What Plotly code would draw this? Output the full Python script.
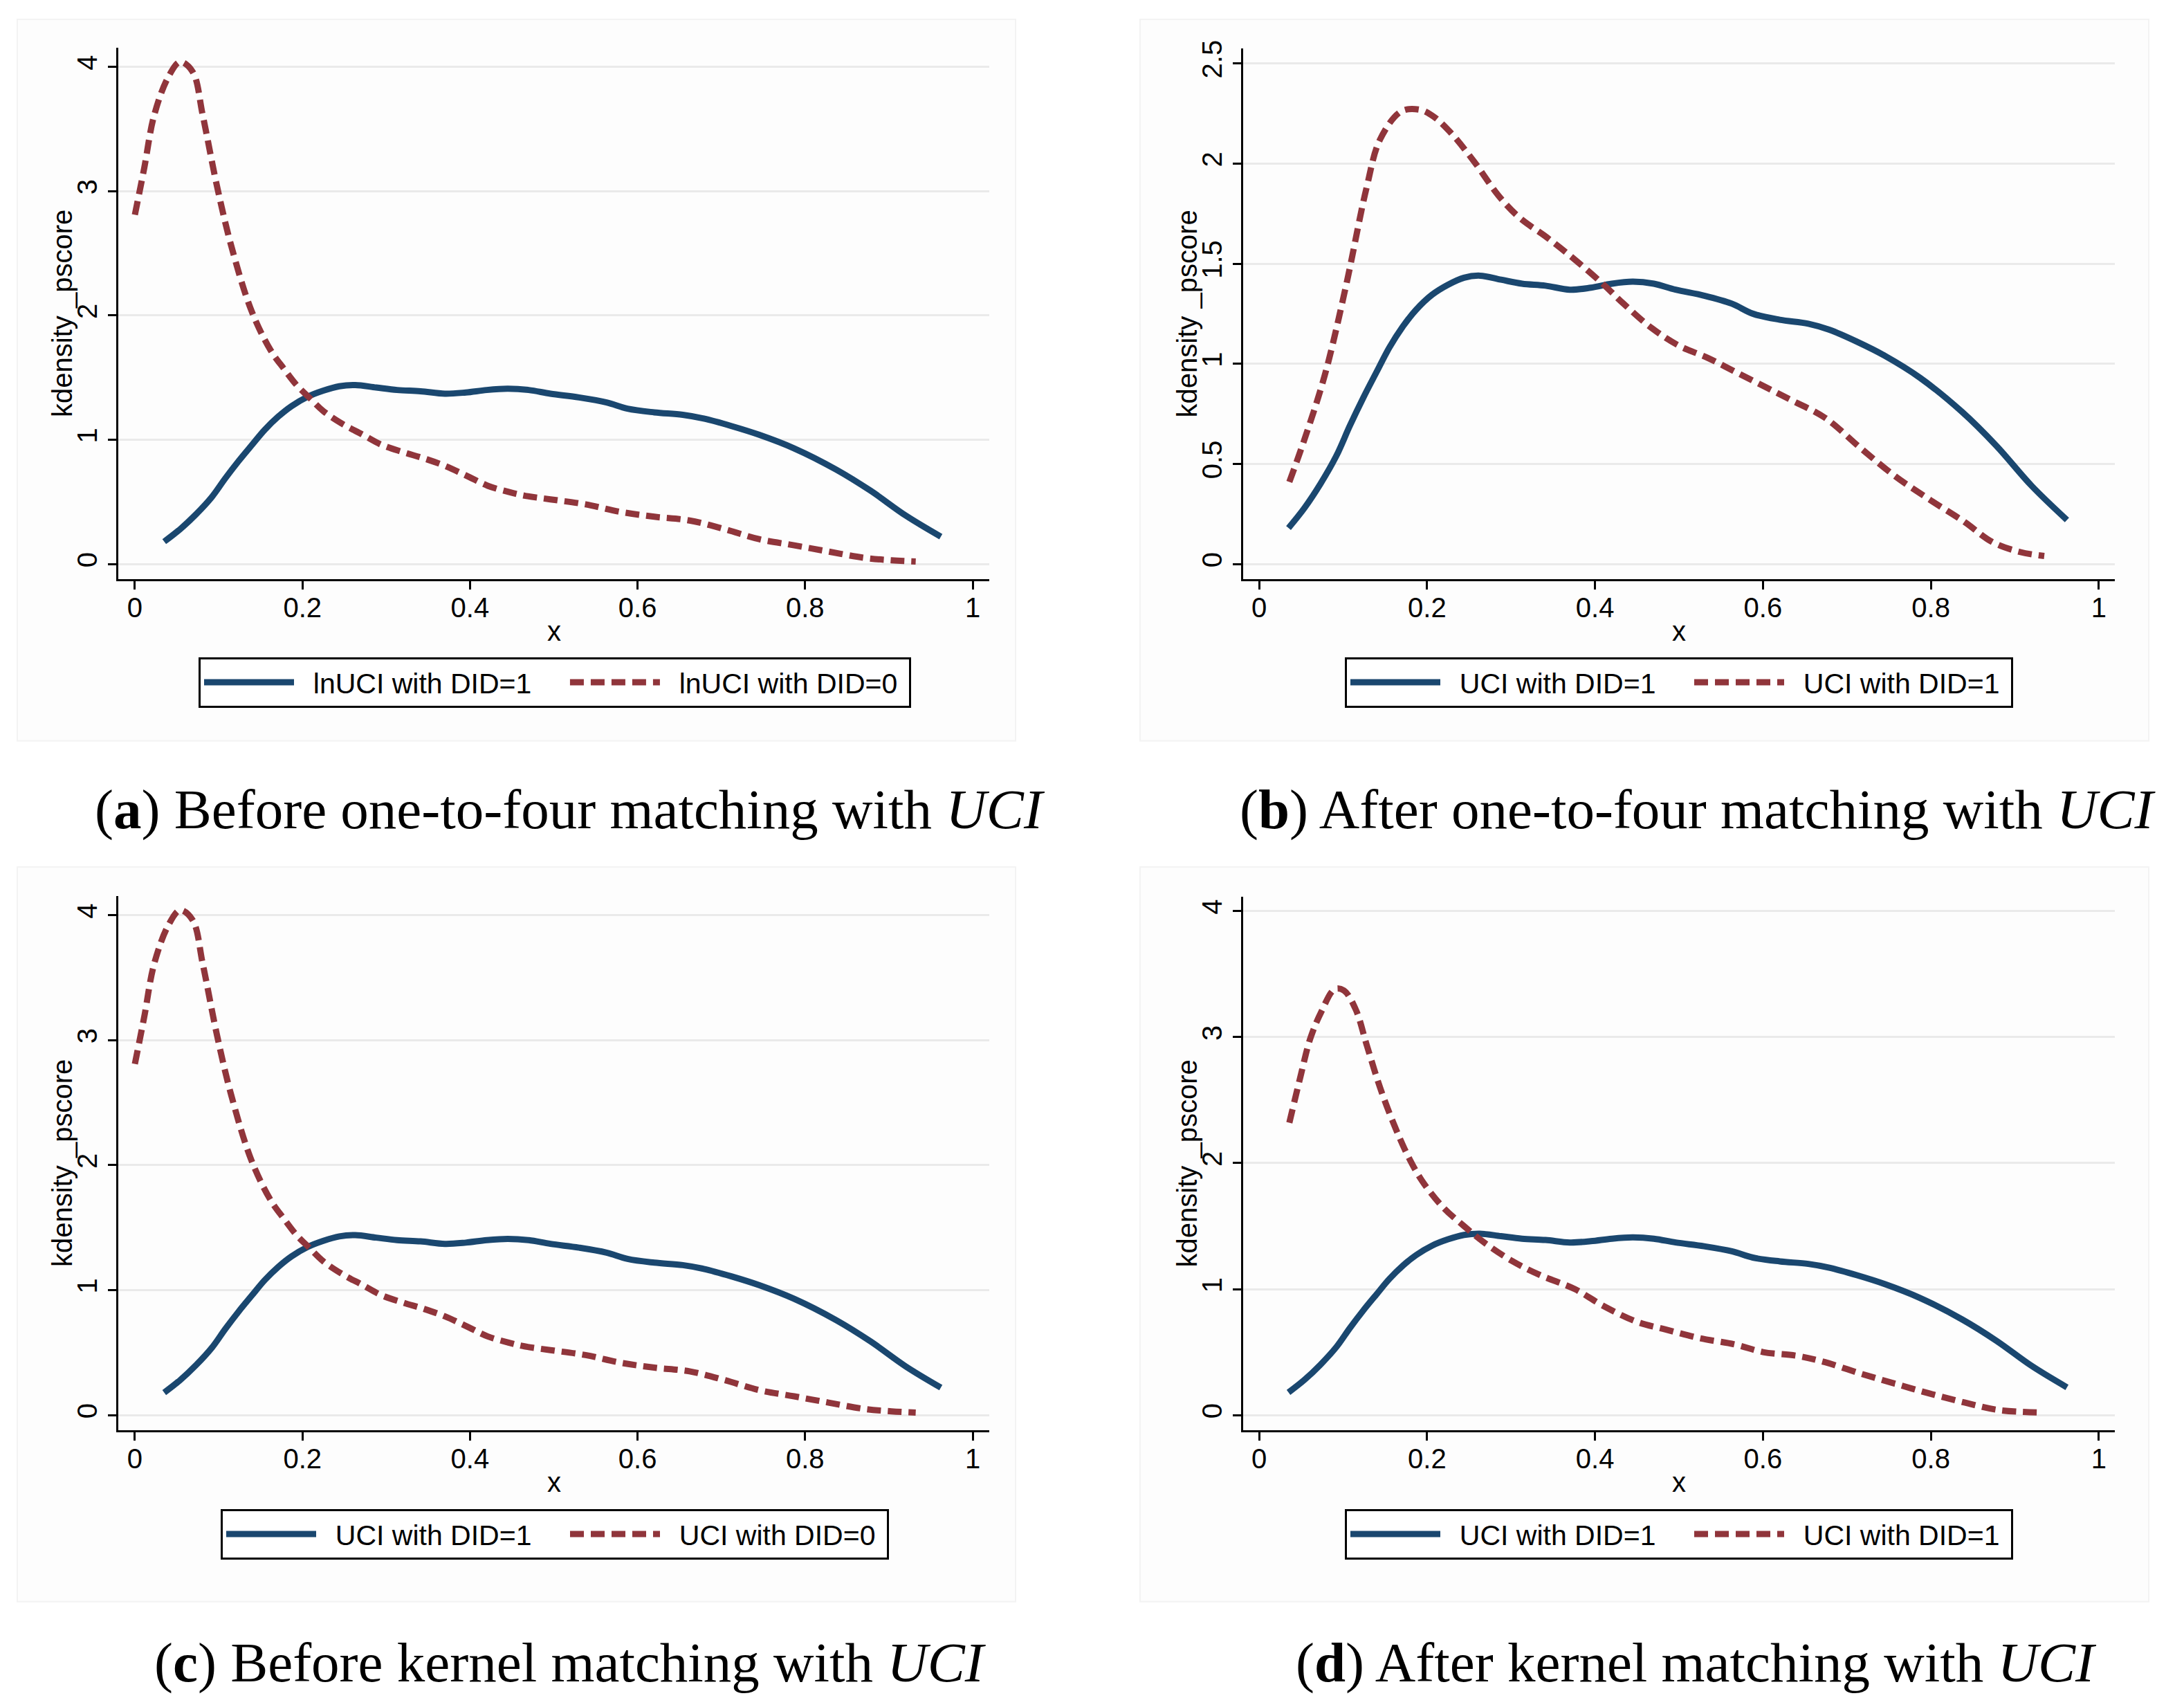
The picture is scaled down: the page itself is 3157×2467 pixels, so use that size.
import plotly.graph_objects as go

# ==========================================================
# DATA
# ==========================================================
# treated group (DID=1) -- same curve in all four panels
x_treated = [0.035, 0.054, 0.073, 0.092, 0.108, 0.124, 0.14, 0.155, 0.171, 0.187, 0.206,
             0.225, 0.244, 0.263, 0.288, 0.313, 0.341, 0.37, 0.395, 0.42, 0.445, 0.47,
             0.496, 0.53, 0.563, 0.588, 0.62, 0.654, 0.679, 0.712, 0.745, 0.787, 0.837,
             0.878, 0.92, 0.962]
y_treated = [0.18, 0.28, 0.40, 0.54, 0.69, 0.83, 0.96, 1.08, 1.185, 1.27, 1.345,
             1.395, 1.43, 1.44, 1.42, 1.40, 1.39, 1.37, 1.38, 1.40, 1.41, 1.40,
             1.37, 1.34, 1.30, 1.25, 1.22, 1.20, 1.17, 1.11, 1.04, 0.93, 0.76,
             0.59, 0.39, 0.22]

# control group before matching (panels a and c)
x_before = [0.0, 0.011, 0.023, 0.04, 0.054, 0.069, 0.081, 0.098, 0.115, 0.139, 0.162,
            0.178, 0.193, 0.208, 0.225, 0.247, 0.272, 0.294, 0.32, 0.345, 0.37, 0.396,
            0.421, 0.446, 0.465, 0.496, 0.538, 0.579, 0.62, 0.662, 0.704, 0.745, 0.787,
            0.828, 0.87, 0.903, 0.932]
y_before = [2.81, 3.18, 3.61, 3.92, 4.04, 3.96, 3.61, 3.04, 2.56, 2.04, 1.72,
            1.57, 1.44, 1.34, 1.23, 1.13, 1.04, 0.96, 0.90, 0.85, 0.79, 0.71,
            0.63, 0.58, 0.55, 0.52, 0.48, 0.42, 0.38, 0.35, 0.28, 0.20, 0.15,
            0.10, 0.05, 0.03, 0.02]

# after one-to-four matching (panel b)
x_after_nn = [0.036, 0.053, 0.078, 0.103, 0.128, 0.144, 0.169, 0.19, 0.206, 0.227, 0.256,
              0.285, 0.31, 0.343, 0.376, 0.409, 0.434, 0.467, 0.5, 0.534, 0.567, 0.6,
              0.633, 0.674, 0.716, 0.757, 0.799, 0.84, 0.873, 0.906, 0.935]
y_after_nn = [0.41, 0.61, 0.94, 1.38, 1.88, 2.12, 2.26, 2.27, 2.24, 2.16, 2.01,
              1.84, 1.73, 1.63, 1.52, 1.40, 1.30, 1.18, 1.09, 1.03, 0.96, 0.89,
              0.82, 0.73, 0.58, 0.44, 0.32, 0.21, 0.11, 0.06, 0.04]

# after kernel matching (panel d)
x_after_kernel = [0.036, 0.049, 0.061, 0.074, 0.09, 0.101, 0.115, 0.128, 0.144, 0.161, 0.177,
                  0.194, 0.219, 0.244, 0.268, 0.302, 0.335, 0.376, 0.409, 0.45, 0.484, 0.525,
                  0.567, 0.6, 0.641, 0.674, 0.716, 0.757, 0.799, 0.84, 0.881, 0.934]
y_after_kernel = [2.32, 2.68, 2.99, 3.20, 3.38, 3.37, 3.22, 2.94, 2.60, 2.30, 2.06,
                  1.86, 1.65, 1.50, 1.37, 1.22, 1.11, 1.00, 0.87, 0.74, 0.68, 0.61,
                  0.56, 0.50, 0.47, 0.42, 0.33, 0.25, 0.17, 0.10, 0.04, 0.02]

x_ticks = [0, 0.2, 0.4, 0.6, 0.8, 1]
x_tick_labels = ["0", "0.2", "0.4", "0.6", "0.8", "1"]
y_ticks_4 = [0, 1, 2, 3, 4]
y_tick_labels_4 = ["0", "1", "2", "3", "4"]
y_ticks_25 = [0, 0.5, 1, 1.5, 2, 2.5]
y_tick_labels_25 = ["0", "0.5", "1", "1.5", "2", "2.5"]

legend_labels = [
    ("lnUCI with DID=1", "lnUCI with DID=0"),
    ("UCI with DID=1", "UCI with DID=1"),
    ("UCI with DID=1", "UCI with DID=0"),
    ("UCI with DID=1", "UCI with DID=1"),
]
captions = [
    "(<b>a</b>) Before one-to-four matching with <i>UCI</i>",
    "(<b>b</b>) After one-to-four matching with <i>UCI</i>",
    "(<b>c</b>) Before kernel matching with <i>UCI</i>",
    "(<b>d</b>) After kernel matching with <i>UCI</i>",
]
x_title = "x"
y_title = "kdensity _pscore"

# ==========================================================
# LAYOUT CONFIG (pixels of the 3157 x 2467 page)
# ==========================================================
W, H = 3157, 2467
NAVY = "#1a476f"
MAROON = "#90353b"
SANS = "Liberation Sans"
SERIF = "Liberation Serif"
NB = "\u00a0"
LEAD = NB * 2    # space between legend key and its text
TRAIL = NB * 4   # space between the two legend entries
END = NB * 1     # right padding inside the legend box


def px_x(p):
    return p / W


def px_y(p):
    return 1 - p / H


# (left, right, top, bottom) of each plot area, x range, y range
panels = [
    dict(box=(163, 1422, 49, 821), xr=[-0.0198, 1.0198], yr=[-0.122, 4.155]),
    dict(box=(1789, 3049, 50, 821), xr=[-0.019, 1.019], yr=[-0.0757, 2.5757]),
    dict(box=(163, 1422, 1281, 2057), xr=[-0.0198, 1.0198], yr=[-0.121, 4.154]),
    dict(box=(1789, 3049, 1282, 2057), xr=[-0.019, 1.019], yr=[-0.12, 4.115]),
]
red_curves = [
    (x_before, y_before),
    (x_after_nn, y_after_nn),
    (x_before, y_before),
    (x_after_kernel, y_after_kernel),
]
legend_pos = [(794, 971), (2419, 971), (794, 2208), (2419, 2208)]
caption_pos = [(816, 1156), (2446, 1156), (816, 2395), (2444, 2395)]
backgrounds = [(17, 1460, 8, 1056), (1640, 3098, 8, 1056),
               (17, 1460, 1239, 2306), (1640, 3098, 1239, 2306)]

fig = go.Figure()

for i, p in enumerate(panels):
    n = "" if i == 0 else str(i + 1)
    leg = "legend" + n
    fig.add_trace(go.Scatter(
        x=x_treated, y=y_treated, mode="lines", line_shape="spline",
        line=dict(color=NAVY, width=9),
        name=LEAD + legend_labels[i][0] + TRAIL, legend=leg,
        xaxis="x" + n, yaxis="y" + n,
    ))
    rx, ry = red_curves[i]
    fig.add_trace(go.Scatter(
        x=rx, y=ry, mode="lines", line_shape="spline",
        line=dict(color=MAROON, width=9, dash="20px,10px"),
        name=LEAD + legend_labels[i][1] + END, legend=leg,
        xaxis="x" + n, yaxis="y" + n,
    ))

    l, r, t, b = p["box"]
    if i == 1:
        yticks, ylabels = y_ticks_25, y_tick_labels_25
    else:
        yticks, ylabels = y_ticks_4, y_tick_labels_4

    fig.layout["xaxis" + n] = dict(
        domain=[px_x(l), px_x(r)], anchor="y" + n, range=p["xr"],
        tickvals=x_ticks, ticktext=x_tick_labels,
        showgrid=False, zeroline=False,
        showline=True, linecolor="black", linewidth=3,
        ticks="outside", ticklen=12, tickwidth=3, tickcolor="black",
        ticklabelstandoff=-8,
        tickfont=dict(family=SANS, size=40, color="black"),
    )
    fig.layout["yaxis" + n] = dict(
        domain=[px_y(b), px_y(t)], anchor="x" + n, range=p["yr"],
        tickvals=yticks, ticktext=ylabels, tickangle=-90,
        showgrid=True, gridcolor="#eaeaea", gridwidth=3, zeroline=False,
        showline=True, linecolor="black", linewidth=3,
        ticks="outside", ticklen=12, tickwidth=3, tickcolor="black",
        tickfont=dict(family=SANS, size=40, color="black"),
    )

    # axis titles, placed like Stata's
    fig.add_annotation(
        text=x_title, xref="paper", yref="paper",
        x=px_x((l + r) / 2), y=px_y(b + 75),
        xanchor="center", yanchor="middle", showarrow=False,
        font=dict(family=SANS, size=40, color="black"),
    )
    fig.add_annotation(
        text=y_title, textangle=-90, xref="paper", yref="paper",
        x=px_x(l - 81), y=px_y((t + b) / 2),
        xanchor="center", yanchor="middle", showarrow=False,
        font=dict(family=SANS, size=40, color="black"),
    )

    lx, ly = legend_pos[i]
    fig.layout[leg] = dict(
        orientation="h",
        x=px_x(lx), xanchor="center",
        y=px_y(ly), yanchor="middle",
        bgcolor="white", bordercolor="black", borderwidth=3,
        font=dict(family=SANS, size=41, color="black"),
        itemwidth=130, itemclick=False,
    )

    bl, br, bt, bb = backgrounds[i]
    fig.add_shape(type="rect", xref="paper", yref="paper",
                  x0=px_x(bl), x1=px_x(br), y0=px_y(bb), y1=px_y(bt),
                  fillcolor="#fdfdfd", line=dict(color="#f3f3f3", width=2),
                  layer="below")

    cx, cy = caption_pos[i]
    fig.add_annotation(
        text=captions[i], xref="paper", yref="paper",
        x=px_x(cx), y=px_y(cy),
        xanchor="center", yanchor="middle", showarrow=False,
        font=dict(family=SERIF, size=81, color="black"),
    )

fig.update_layout(
    width=W, height=H,
    margin=dict(l=0, r=0, t=0, b=0),
    paper_bgcolor="white",
    plot_bgcolor="white",
    showlegend=True,
)

fig.write_html("out.html")
